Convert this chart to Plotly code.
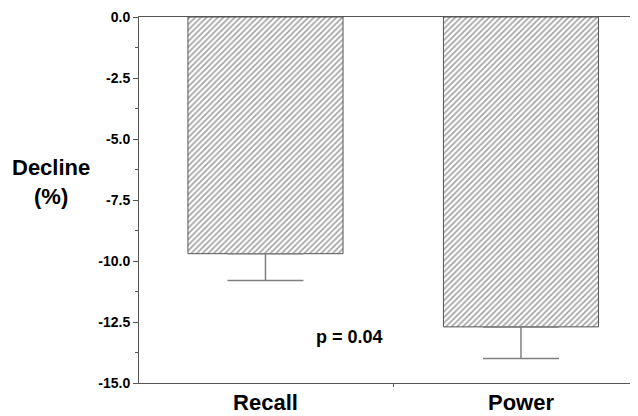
import plotly.graph_objects as go

categories = ["Recall", "Power"]
decline = [-9.7, -12.7]
sem = [1.1, 1.3]
tick_vals = [0, -2.5, -5, -7.5, -10, -12.5, -15]
tick_text = ["0.0", "-2.5", "-5.0", "-7.5", "-10.0", "-12.5", "-15.0"]
minor_vals = [-1.25, -3.75, -6.25, -8.75, -11.25, -13.75]
p_label = "p = 0.04"

FONT = "Arial, 'Liberation Sans', sans-serif"

fig = go.Figure()
fig.add_trace(go.Bar(
    x=categories, y=decline, width=0.607,
    marker=dict(color="white",
                line=dict(color="#555555", width=1),
                pattern=dict(shape="/", fgcolor="#444444", bgcolor="white",
                             size=4, solidity=0.4)),
    error_y=dict(type="data", symmetric=False, array=[0, 0], arrayminus=sem,
                 color="#808080", thickness=1.5, width=38),
))

fig.add_annotation(text="<b>Decline</b><br><b>(%)</b>",
                   x=-0.176, y=0.55, xref="paper", yref="paper",
                   xanchor="center", yanchor="middle", showarrow=False,
                   font=dict(family=FONT, size=22, color="black"))
fig.add_annotation(text="<b>" + p_label + "</b>", x=0.33, y=-13.1,
                   xref="x", yref="y", xanchor="center", yanchor="middle",
                   showarrow=False,
                   font=dict(family=FONT, size=18, color="black"))

fig.update_layout(
    width=630, height=408,
    margin=dict(l=131, r=0, t=9, b=33),
    plot_bgcolor="white", paper_bgcolor="white",
    showlegend=False,
    font=dict(family=FONT, color="black"),
    xaxis=dict(range=[-0.495, 1.458], showline=True, linecolor="#555555",
               linewidth=1, mirror=True, ticks="outside", tickson="boundaries",
               ticklen=3, tickcolor="#555555", showgrid=False, automargin=False,
               tickfont=dict(family=FONT, size=22, color="black"),
               tickprefix="<b>", ticksuffix="</b>"),
    yaxis=dict(range=[-15, 0], showline=True, linecolor="#555555", linewidth=1,
               tickvals=tick_vals, ticktext=["<b>" + t + "</b>" for t in tick_text],
               ticks="outside", ticklen=5, tickcolor="#555555", showgrid=False,
               zeroline=False, automargin=False,
               minor=dict(tickvals=minor_vals, ticks="outside", ticklen=3,
                          tickcolor="#555555"),
               tickfont=dict(family=FONT, size=14, color="black")),
)

fig.write_html("out.html")
